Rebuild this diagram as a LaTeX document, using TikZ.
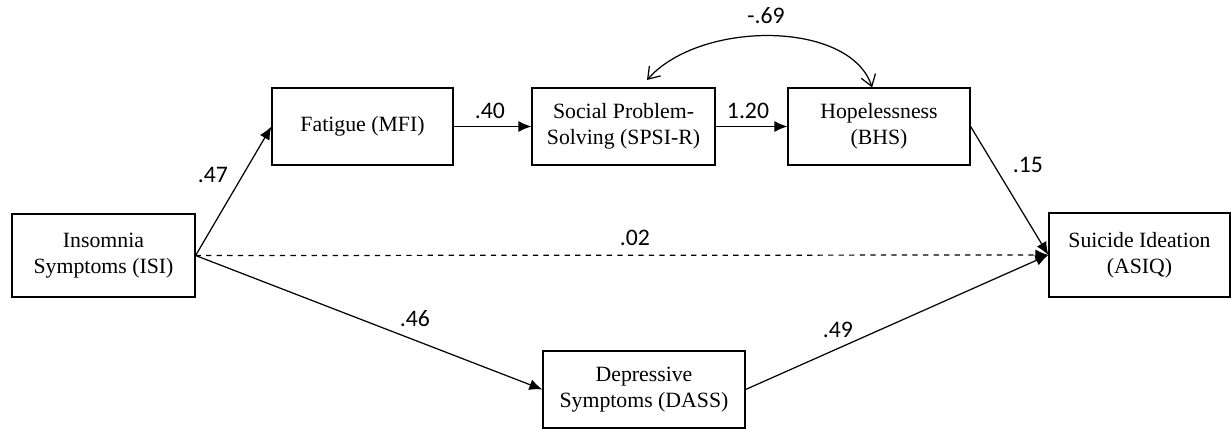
\documentclass[tikz,border=0pt]{standalone}
\usepackage{fontspec}
\setmainfont{Liberation Serif}
\newfontfamily\labfont{Carlito}
\usetikzlibrary{arrows.meta}

\begin{document}
\begin{tikzpicture}
[
x=0.02cm,y=-0.02cm,
box/.style 2 args={draw,line width=0.7pt,align=center,inner sep=0pt,
  minimum width=#1*0.02cm,minimum height=#2*0.02cm,
  font=\fontsize{12.4}{14.6}\selectfont},
path/.style={line width=0.7pt,-{Latex[length=2.6mm,width=2.2mm]}},
coef/.style={font=\labfont\fontsize{13.5}{15}\selectfont},
]
\useasboundingbox (0,0) rectangle (1231,429);

%Place the nodes
\node[box={183}{83}] (isi) at (103.5,255.5) {Insomnia\\Symptoms (ISI)};
\node[box={181}{77}] (mfi) at (362.5,126.5) {Fatigue (MFI)};
\node[box={183}{77}] (spsi) at (623.5,126.5) {Social Problem-\\Solving (SPSI-R)};
\node[box={182}{77}] (bhs) at (879,126.5) {Hopelessness\\(BHS)};
\node[box={181}{84}] (asiq) at (1139.5,255) {Suicide Ideation\\(ASIQ)};
\node[box={202}{77}] (dass) at (644,389.5) {Depressive\\Symptoms (DASS)};
\coordinate (cov) at (647,80);

%Draw the connections
\draw[path] (isi.east) -- (mfi.west);
\draw[path] (mfi.east) -- (spsi.west);
\draw[path] (spsi.east) -- (bhs.west);
\draw[path] (bhs.east) -- (asiq.west);
\draw[path,dashed] (isi.east) -- (asiq.west);
\draw[path] (isi.east) -- (dass.west);
\draw[path] (dass.east) -- (asiq.west);
\draw[line width=0.7pt,{Straight Barb[length=2.2mm,width=3mm]}-{Straight Barb[length=2.2mm,width=3mm]}]
  (cov) .. controls (700,20) and (850,20) .. (bhs.100);

%Coefficients
\node[coef] (b1) at (213,175) {.47};
\node[coef] (b2) at (490,111) {.40};
\node[coef] (b3) at (748,111) {1.20};
\node[coef] (b4) at (766,16) {-.69};
\node[coef] (b5) at (1028,165) {.15};
\node[coef] (b6) at (635,238) {.02};
\node[coef] (b7) at (415,319) {.46};
\node[coef] (b8) at (838,330) {.49};
\end{tikzpicture}
\end{document}
